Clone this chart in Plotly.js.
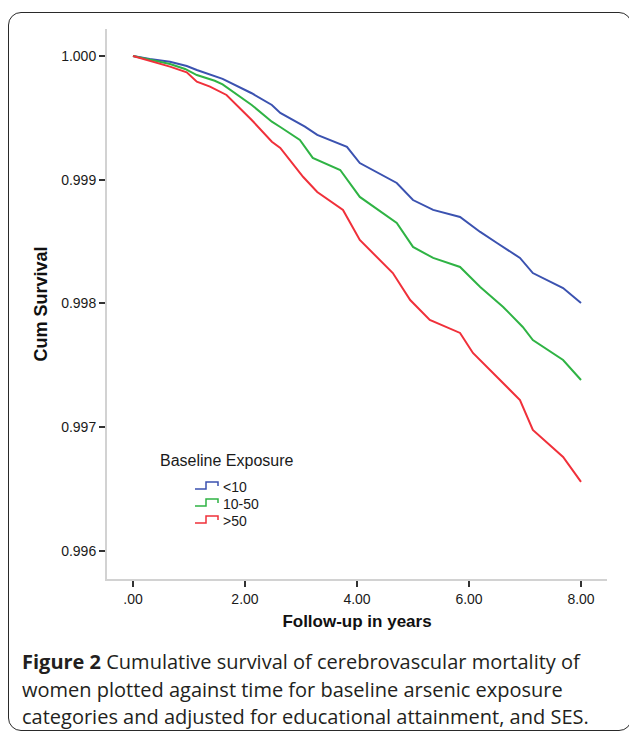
<!DOCTYPE html>
<html>
<head>
<meta charset="utf-8">
<script src="https://cdn.plot.ly/plotly-3.0.1.min.js"></script>
<style>
  html, body { margin: 0; padding: 0; background: #fff; }
  #wrap { position: relative; width: 629px; height: 733px; overflow: hidden; }
  #chart { position: absolute; left: 0; top: 0; width: 629px; height: 733px; }
  #frame { position: absolute; left: 8px; top: 12px; width: 622px; height: 717px;
           border: 1.6px solid #2a2a2a; border-radius: 13px; pointer-events: none; }
</style>
</head>
<body>
<div id="wrap">
  <div id="chart"></div>
  <div id="frame"></div>
</div>
<script>
// ---- Data ----
const seriesNames = ['<10', '10-50', '>50'];
const legendTitle = 'Baseline Exposure';

const blueYears = [0, 0.30, 0.66, 0.96, 1.14, 1.46, 1.60, 2.12, 2.48, 2.63, 3.07, 3.29, 3.82, 4.05, 4.71, 5.00, 5.36, 5.84, 6.20, 6.50, 6.91, 7.14, 7.68, 8.00];
const blueSurv  = [1.000000, 0.999975, 0.999954, 0.999919, 0.999887, 0.999838, 0.999815, 0.999699, 0.999604, 0.999540, 0.999429, 0.999362, 0.999265, 0.999135, 0.998974, 0.998836, 0.998756, 0.998699, 0.998578, 0.998489, 0.998368, 0.998246, 0.998125, 0.998004];

const greenYears = [0, 0.30, 0.66, 0.93, 1.14, 1.46, 1.60, 2.12, 2.48, 2.63, 2.98, 3.21, 3.70, 4.05, 4.71, 5.00, 5.36, 5.84, 6.20, 6.61, 6.96, 7.14, 7.68, 8.00];
const greenSurv  = [1.000000, 0.999970, 0.999935, 0.999895, 0.999846, 0.999800, 0.999770, 0.999604, 0.999469, 0.999426, 0.999321, 0.999176, 0.999079, 0.998861, 0.998651, 0.998457, 0.998368, 0.998295, 0.998133, 0.997972, 0.997810, 0.997705, 0.997543, 0.997382];

const redYears = [0, 0.30, 0.66, 0.96, 1.14, 1.375, 1.67, 2.12, 2.48, 2.63, 3.04, 3.29, 3.75, 4.05, 4.64, 4.95, 5.30, 5.84, 6.07, 6.50, 6.91, 7.14, 7.68, 8.00];
const redSurv  = [1.000000, 0.999962, 0.999914, 0.999868, 0.999792, 0.999752, 0.999685, 0.999483, 0.999307, 0.999257, 0.999022, 0.998901, 0.998756, 0.998513, 0.998246, 0.998028, 0.997867, 0.997762, 0.997600, 0.997406, 0.997220, 0.996978, 0.996760, 0.996558];

const xTickVals = [0, 2, 4, 6, 8];
const xTickText = ['.00', '2.00', '4.00', '6.00', '8.00'];
const yTickVals = [0.996, 0.997, 0.998, 0.999, 1.000];
const yTickText = ['0.996', '0.997', '0.998', '0.999', '1.000'];

const xTitle = 'Follow-up in years';
const yTitle = 'Cum Survival';
const captionLines = [
  '<b>Figure 2</b> Cumulative survival of cerebrovascular mortality of',
  'women plotted against time for baseline arsenic exposure',
  'categories and adjusted for educational attainment, and SES.'
];

const colors = ['#3b52b0', '#2fb344', '#f0303a'];

// ---- Layout geometry ----
const W = 629, H = 733;
const M = { l: 107, r: 22, t: 29, b: 154 };
const PW = W - M.l - M.r, PH = H - M.t - M.b;
const px = x => (x - M.l) / PW;          // pixel -> paper x
const py = y => (H - M.b - y) / PH;      // pixel -> paper y

const traces = [
  [blueYears, blueSurv], [greenYears, greenSurv], [redYears, redSurv]
].map((d, i) => ({
  type: 'scatter', mode: 'lines', x: d[0], y: d[1], name: seriesNames[i],
  line: { color: colors[i], width: 2, shape: 'linear' }, showlegend: false,
  hoverinfo: 'skip'
}));

const shapes = [];
const annotations = [];
const FONT = 'Liberation Sans, Arial, sans-serif';

// custom legend (step-shaped symbols)
annotations.push({ xref: 'paper', yref: 'paper', x: px(158), y: py(460), xanchor: 'left', yanchor: 'middle',
  text: legendTitle, showarrow: false, font: { family: FONT, size: 16, color: '#1a1a1a' } });
const legendRows = [486, 503, 520];
seriesNames.forEach((nm, i) => {
  const cy = legendRows[i];
  const pts = [[195, cy + 3], [206, cy + 3], [206, cy - 4], [218, cy - 4], [218, cy]];
  const path = pts.map((p, k) => (k ? 'L' : 'M') + px(p[0]).toFixed(5) + ',' + py(p[1]).toFixed(5)).join(' ');
  shapes.push({ type: 'path', xref: 'paper', yref: 'paper', path: path,
    line: { color: colors[i], width: 1.5 } });
  annotations.push({ xref: 'paper', yref: 'paper', x: px(221), y: py(cy + 1), xanchor: 'left', yanchor: 'middle',
    text: nm.replace('<', '&lt;').replace('>', '&gt;'), showarrow: false,
    font: { family: FONT, size: 14, color: '#1a1a1a' } });
});

// caption
const capY = [661, 689, 716];
captionLines.forEach((t, i) => {
  annotations.push({ xref: 'paper', yref: 'paper', x: px(20), y: py(capY[i]), xanchor: 'left', yanchor: 'middle',
    text: t, showarrow: false, font: { family: 'Open Sans, sans-serif', size: 20, color: '#231f20' } });
});

const layout = {
  width: W, height: H,
  margin: M,
  paper_bgcolor: '#fff', plot_bgcolor: '#fff',
  showlegend: false,
  xaxis: {
    range: [-0.464, 8.464], tickvals: xTickVals, ticktext: xTickText,
    showline: true, linecolor: '#d2d2d2', linewidth: 2,
    ticks: 'outside', ticklen: 6, tickwidth: 2, tickcolor: '#333',
    showgrid: false, zeroline: false,
    tickfont: { family: FONT, size: 14, color: '#1a1a1a' },
    title: { text: xTitle, font: { family: FONT, size: 17, color: '#111', weight: 'bold' }, standoff: 9 }
  },
  yaxis: {
    range: [0.9957737, 1.000218], tickvals: yTickVals, ticktext: yTickText,
    showline: true, linecolor: '#d2d2d2', linewidth: 2,
    ticks: 'outside', ticklen: 6, tickwidth: 2, tickcolor: '#333',
    showgrid: false, zeroline: false,
    tickfont: { family: FONT, size: 14, color: '#1a1a1a' },
    title: { text: yTitle, font: { family: FONT, size: 18, color: '#111', weight: 'bold' }, standoff: 9 }
  },
  shapes: shapes,
  annotations: annotations
};

Plotly.newPlot('chart', traces, layout, { displayModeBar: false, staticPlot: true });
</script>
</body>
</html>
